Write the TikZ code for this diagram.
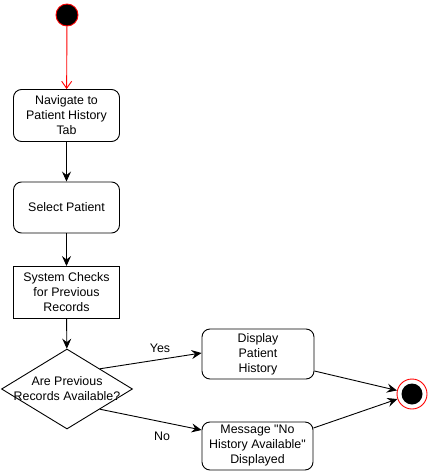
\documentclass[tikz,border=0pt]{standalone}
\usepackage{fontspec}
\setmainfont{Liberation Sans}
\usetikzlibrary{arrows.meta,shapes.geometric,calc}
\begin{document}
\begin{tikzpicture}[x=1pt,y=-1pt,
  every node/.style={font=\fontsize{12.4}{15}\selectfont},
  act/.style={draw=black,line width=0.9pt,rounded corners=8pt,align=center,inner sep=0pt},
  sq/.style={draw=black,line width=0.9pt,align=center,inner sep=0pt},
  flow/.style={draw=black,line width=0.9pt,-{Stealth[length=10pt,width=9pt,inset=3.5pt]}},
  redflow/.style={draw=red,line width=0.9pt,-{Straight Barb[length=7pt,width=10pt]}},
  lbl/.style={inner sep=0pt}]
\useasboundingbox (0,0) rectangle (428,471);
\node[circle,fill=black,draw=red,line width=0.9pt,minimum size=22pt,inner sep=0pt] (start) at (67,15) {};
\node[act,minimum width=106pt,minimum height=52pt] (nav) at (66.5,115.5) {Navigate to\\Patient History\\Tab};
\node[act,minimum width=106pt,minimum height=51pt] (sel) at (66.5,207.5) {Select Patient};
\node[sq,minimum width=106pt,minimum height=52pt] (chk) at (66.5,292.5) {System Checks\\for Previous\\Records};
\node[diamond,draw=black,line width=0.9pt,minimum width=131pt,minimum height=80pt,aspect=1.64,inner sep=0pt] (dec) at (67,389) {};
\node[lbl,align=center] (dectext) at (dec.center) {Are Previous\\Records Available?};
\node[act,minimum width=112pt,minimum height=50pt] (disp) at (258,354) {Display\\Patient\\History};
\node[act,minimum width=111pt,minimum height=48pt] (msg) at (257.5,446) {Message \textquotedbl No\\History Available\textquotedbl\\Displayed};
\node[circle,draw=red,line width=0.9pt,minimum size=30pt,inner sep=0pt] (end) at (412,394) {};
\node[circle,fill=black,minimum size=21pt,inner sep=0pt] (endin) at (end.center) {};
\coordinate (ys) at ($(dec.north)!0.5!(dec.east)$);
\coordinate (ns) at ($(dec.east)!0.5!(dec.south)$);
\coordinate (ye) at ($(disp.west)+(0,-1)$);
\coordinate (ne) at ($(msg.west)+(0,-16)$);
\coordinate (ds) at ($(disp.east)+(0,17)$);
\coordinate (ms) at ($(msg.east)+(0,-18)$);
\draw[redflow] (start) -- (nav);
\draw[flow] (nav) -- (sel);
\draw[flow] (sel) -- (chk);
\draw[flow] (chk) -- (dec);
\draw[flow] (ys) -- (ye);
\draw[flow] (ns) -- (ne);
\draw[flow] (ds) -- (end);
\draw[flow] (ms) -- (end);
\node[lbl] (yes) at (160,348) {Yes};
\node[lbl] (no) at (162,436) {No};
\end{tikzpicture}
\end{document}
